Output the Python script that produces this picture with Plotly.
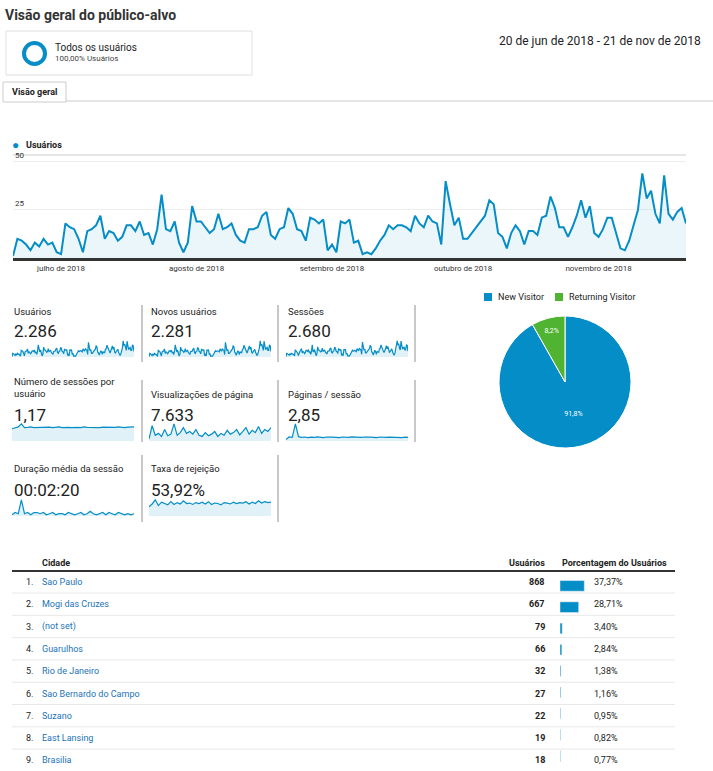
import numpy as np
import pandas as pd
import plotly.graph_objects as go

W, H = 713, 771

# dados diários de usuários (20 jun - 21 nov 2018)
dates = pd.date_range("2018-06-20", "2018-11-21", freq="D")
users_daily = [1, 10, 9, 7, 4, 8, 6, 10, 7, 8, 3,
               2, 18, 16, 15, 10, 3, 14, 15, 17, 22, 10, 14, 13, 9, 11, 17, 17, 14, 19, 12,
               13, 7, 15, 33, 15, 14, 19, 8, 3, 8, 27,
               19, 19, 16, 13, 15, 23, 15, 16, 18, 12, 9, 8, 15, 15, 16, 22, 24, 12, 10,
               15, 16, 26, 23, 15, 14, 9, 21, 20, 18, 20, 4, 7, 3, 19, 18, 20, 8, 9,
               2, 3, 2, 5, 9, 12, 17, 15, 17, 17, 16, 14, 22, 18, 16, 22, 19, 18, 7,
               40, 28, 17, 21, 10, 10, 13, 16, 19, 22, 30, 28, 13, 11, 5,
               13, 17, 14, 7, 14, 14, 12, 21, 22, 32, 26, 16, 16, 11, 16, 22,
               30, 21, 27, 13, 11, 15, 21, 21, 13, 5, 4, 9, 17, 25, 44, 31, 35, 23,
               18, 43, 23, 20, 24, 26, 18, 18, 33, 30, 15]
dates = dates[:len(users_daily)]
month_ticks = ["2018-07-01", "2018-08-01", "2018-09-01", "2018-10-01", "2018-11-01"]
month_labels = ["julho de 2018", "agosto de 2018", "setembro de 2018", "outubro de 2018", "novembro de 2018"]

# métricas
metric_names = ["Usuários", "Novos usuários", "Sessões",
                "Número de sessões por<br>usuário", "Visualizações de página", "Páginas / sessão",
                "Duração média da sessão", "Taxa de rejeição"]
metric_values = ["2.286", "2.281", "2.680", "1,17", "7.633", "2,85", "00:02:20", "53,92%"]
spark_users = users_daily
spark_new = [v - 0.3 for v in users_daily]
spark_sessions = [1, 11, 10, 8, 5, 9, 7, 12, 8, 9, 4, 3, 21, 18, 17, 12, 4, 16, 17, 20, 25, 12,
                  16, 15, 10, 13, 20, 19, 16, 22, 14, 15, 8, 17, 36, 17, 16, 22, 9, 4, 9, 30,
                  22, 21, 18, 15, 17, 26, 17, 18, 21, 14, 10, 9, 17, 17, 18, 25, 27, 14, 12,
                  17, 18, 29, 26, 17, 16, 10, 24, 23, 20, 23, 5, 8, 4, 22, 21, 23, 9, 10,
                  3, 4, 3, 6, 10, 14, 20, 17, 20, 20, 18, 16, 25, 21, 18, 25, 22, 21, 8,
                  44, 32, 20, 24, 12, 12, 15, 18, 22, 25, 34, 32, 15, 13, 6,
                  15, 20, 16, 8, 16, 16, 14, 24, 25, 36, 30, 18, 18, 13, 18, 25,
                  34, 24, 31, 15, 13, 17, 24, 24, 15, 6, 5, 10, 20, 29, 48, 35, 40, 26,
                  21, 47, 26, 23, 27, 30, 21, 21, 37, 34, 17]
spark_spu = [1.0, 1.1, 1.15, 1.4, 1.1, 1.12, 1.15, 1.1, 1.12, 1.13, 1.1, 1.12, 1.14, 1.1,
             1.12, 1.15, 1.1, 1.13, 1.12, 1.1, 1.14, 1.12, 1.1, 1.15, 1.12, 1.1, 1.13, 1.12,
             1.1, 1.14, 1.12, 1.13, 1.1, 1.12, 1.15, 1.12, 1.1, 1.13, 1.14, 1.15]
spark_pv = [5, 40, 15, 20, 12, 30, 14, 18, 45, 15, 22, 35, 20, 25, 18, 30, 15, 12, 22, 14,
            18, 25, 12, 20, 15, 28, 18, 22, 30, 16, 25, 35, 18, 28, 22, 38, 20, 30, 25, 35]
spark_pps = [1, 2.8, 2.5, 12, 3, 2.6, 2.8, 2.4, 2.7, 2.5, 2.9, 2.6, 2.4, 2.8, 2.5, 2.7, 2.6,
             2.3, 2.8, 2.6, 2.5, 2.9, 2.7, 2.4, 2.6, 2.8, 2.5, 2.7, 2.6, 2.4, 2.8, 2.5, 2.6,
             2.7, 2.5, 2.8, 2.6, 2.4, 2.7, 2.6]
spark_dur = [1, 3, 2, 14, 2, 3, 1, 3, 3, 2, 3, 1, 2, 3, 1, 2, 2, 1, 3, 2, 1, 2, 3, 1, 2, 4,
             2, 1, 2, 3, 1, 3, 2, 1, 3, 2, 1, 2, 1, 2]
spark_bounce = [40, 52, 70, 45, 60, 55, 48, 62, 50, 58, 52, 66, 54, 56, 50, 58, 54, 60, 52,
                62, 50, 56, 54, 48, 58, 56, 52, 60, 54, 58, 56, 62, 52, 60, 54, 66, 56, 62,
                58, 60]
spark_series = [spark_users, spark_new, spark_sessions, spark_spu, spark_pv, spark_pps,
                spark_dur, spark_bounce]

# tipo de visitante
visitor_labels = ["New Visitor", "Returning Visitor"]
visitor_share = [91.8, 8.2]
visitor_colors = ["#058dc7", "#50b432"]

# cidades
cities = ["Sao Paulo", "Mogi das Cruzes", "(not set)", "Guarulhos", "Rio de Janeiro",
          "Sao Bernardo do Campo", "Suzano", "East Lansing", "Brasilia"]
city_users = [868, 667, 79, 66, 32, 27, 22, 19, 18]
city_pct = [37.37, 28.71, 3.40, 2.84, 1.38, 1.16, 0.95, 0.82, 0.77]

BLUE = "#058dc7"
FONT = "Roboto"


def fx(x):
    return x / W


def fy(y):
    return 1 - y / H


def px(x0, x1):
    return [fx(x0), fx(x1)]


def py(y0, y1):
    return [max(0, fy(y1)), min(1, fy(y0))]


def fmt_br(v):
    return f"{v:.2f}".replace(".", ",") + "%"


fig = go.Figure()
layout = dict(width=W, height=H, margin=dict(l=0, r=0, t=0, b=0),
              paper_bgcolor="white", plot_bgcolor="white", showlegend=False,
              font=dict(family=FONT, size=11, color="#222"))
ann = []
shapes = []


def text(x, y, s, size=11, color="#222", bold=False, anchor="left"):
    if bold:
        s = f"<b>{s}</b>"
    ann.append(dict(x=fx(x), y=fy(y), xref="paper", yref="paper", text=s, showarrow=False,
                    xanchor=anchor, yanchor="middle", align="left",
                    font=dict(size=size, color=color, family=FONT)))


def line(x0, y0, x1, y1, color="#ddd", width=1):
    shapes.append(dict(type="line", xref="paper", yref="paper", x0=fx(x0), x1=fx(x1),
                       y0=fy(y0), y1=fy(y1), line=dict(color=color, width=width)))


# cabeçalho
text(3, 15, "Visão geral do público-alvo", size=14, color="#333", bold=True)
shapes.append(dict(type="rect", xref="paper", yref="paper", x0=fx(6), x1=fx(252),
                   y0=fy(75), y1=fy(31), line=dict(color="#e0e0e0", width=1)))
shapes.append(dict(type="circle", xref="paper", yref="paper", x0=fx(24), x1=fx(45),
                   y0=fy(64), y1=fy(43), line=dict(color=BLUE, width=4)))
text(53, 47, "Todos os usuários", size=10, color="#222")
text(53, 59, "100,00% Usuários", size=8, color="#444")
text(703, 41, "20 de jun de 2018 - 21 de nov de 2018", size=12, color="#222", anchor="right")
shapes.append(dict(type="rect", xref="paper", yref="paper", x0=fx(3), x1=fx(66),
                   y0=fy(102), y1=fy(82), line=dict(color="#ccc", width=1),
                   fillcolor="white"))
text(34, 92, "Visão geral", size=9, bold=True, anchor="center")
line(66, 101, 713, 101, "#ccc")

# gráfico principal
text(10, 145, "●", size=12, color=BLUE)
text(24, 145, "Usuários", size=9, bold=True)
line(13, 155, 686, 155, "#e6e6e6", 2)
fig.add_trace(go.Scatter(x=dates, y=users_daily, mode="lines", line=dict(color=BLUE, width=2),
                         fill="tozeroy", fillcolor="rgba(5,141,199,0.08)", xaxis="x", yaxis="y",
                         hoverinfo="x+y"))
layout["xaxis"] = dict(domain=px(13, 686), range=[dates[0], dates[-1]], showgrid=False,
                       tickvals=month_ticks, ticktext=month_labels, ticks="",
                       tickfont=dict(size=8, color="#333"), showline=True, linecolor="#333",
                       linewidth=3, fixedrange=True)
layout["yaxis"] = dict(domain=py(155, 258), range=[0, 53.6], tickvals=[25, 50],
                       showticklabels=False, gridcolor="#eee", zeroline=False, fixedrange=True)
for v in [25, 50]:
    ann.append(dict(x=fx(13), y=v, xref="paper", yref="y", text=str(v), showarrow=False,
                    xanchor="left", yanchor="bottom", font=dict(size=8, color="#333")))

# métricas com sparklines
col_x = [12, 149, 286]
rows = [(311, 331, 340, 357), (380, 415, 423, 441), (469, 490, 499, 516)]
for i, (name, val, series) in enumerate(zip(metric_names, metric_values, spark_series)):
    r, c = divmod(i, 3)
    ly, vy, sy0, sy1 = rows[r]
    x0 = col_x[c]
    lab_y = 395 if r == 1 and c > 0 else (387 if r == 1 else ly)
    text(x0, lab_y, name, size=9.5, color="#222")
    text(x0, vy, val, size=17, color="#222")
    n = i + 2
    fig.add_trace(go.Scatter(y=series, mode="lines", line=dict(color=BLUE, width=1.2),
                             fill="tozeroy", fillcolor="rgba(5,141,199,0.12)",
                             xaxis=f"x{n}", yaxis=f"y{n}", hoverinfo="skip"))
    hi = max(series)
    layout[f"xaxis{n}"] = dict(domain=px(x0, x0 + 122), visible=False, fixedrange=True)
    layout[f"yaxis{n}"] = dict(domain=py(sy0, sy1), visible=False, fixedrange=True,
                               range=[0, hi * 1.05])
for r, (y0, y1) in enumerate([(305, 362), (380, 442), (455, 522)]):
    xs = [142, 278, 415] if r < 2 else [142, 278]
    for xx in xs:
        line(xx, y0, xx, y1, "#c8c8c8", 2)

# pizza
fig.add_trace(go.Pie(labels=visitor_labels, values=visitor_share, sort=False, direction="clockwise",
                     marker=dict(colors=visitor_colors, line=dict(color="white", width=1)),
                     text=[f"{v:.1f}%".replace(".", ",") for v in visitor_share],
                     textinfo="text", textfont=dict(size=7, color="white"),
                     textposition="inside", insidetextorientation="horizontal",
                     domain=dict(x=px(499, 631), y=py(316, 448)), hoverinfo="label+percent"))
# legenda da pizza
for lx, lab, col in [(484, visitor_labels[0], visitor_colors[0]),
                     (555, visitor_labels[1], visitor_colors[1])]:
    shapes.append(dict(type="rect", xref="paper", yref="paper", x0=fx(lx), x1=fx(lx + 8),
                       y0=fy(301), y1=fy(293), fillcolor=col, line_width=0))
    text(lx + 12, 297, lab, size=9)

# tabela
text(40, 563, "Cidade", size=9, bold=True)
text(547, 563, "Usuários", size=9, bold=True, anchor="right")
text(560, 563, "Porcentagem do Usuários", size=9, bold=True)
line(12, 571, 675, 571, "#333", 2)
row_y = [582 + 22.3 * i for i in range(len(cities))]
for i, (city, u, p) in enumerate(zip(cities, city_users, city_pct)):
    y = row_y[i]
    text(24, y, f"{i + 1}.", size=9)
    text(40, y, city, size=9, color="#1a73b8")
    text(547, y, str(u), size=9, bold=True, anchor="right")
    text(592, y, fmt_br(p), size=9)
    if i < len(cities) - 1:
        line(12, y + 11, 675, y + 11, "#e8e8e8")
fig.add_trace(go.Bar(x=city_pct, y=cities, orientation="h", marker_color=BLUE, width=0.5,
                     xaxis="x10", yaxis="y10", hoverinfo="x+y"))
layout["xaxis10"] = dict(domain=px(560, 625), range=[0, 100], visible=False, fixedrange=True)
layout["yaxis10"] = dict(domain=py(571, 771), range=[len(cities) - 0.3, -0.7], visible=False,
                         categoryorder="array", categoryarray=cities, fixedrange=True)

layout["annotations"] = ann
layout["shapes"] = shapes
fig.update_layout(**layout)
fig.write_html("out.html", config={"displayModeBar": False},
               post_script="document.body.style.margin='0';document.body.style.overflow='hidden';")
